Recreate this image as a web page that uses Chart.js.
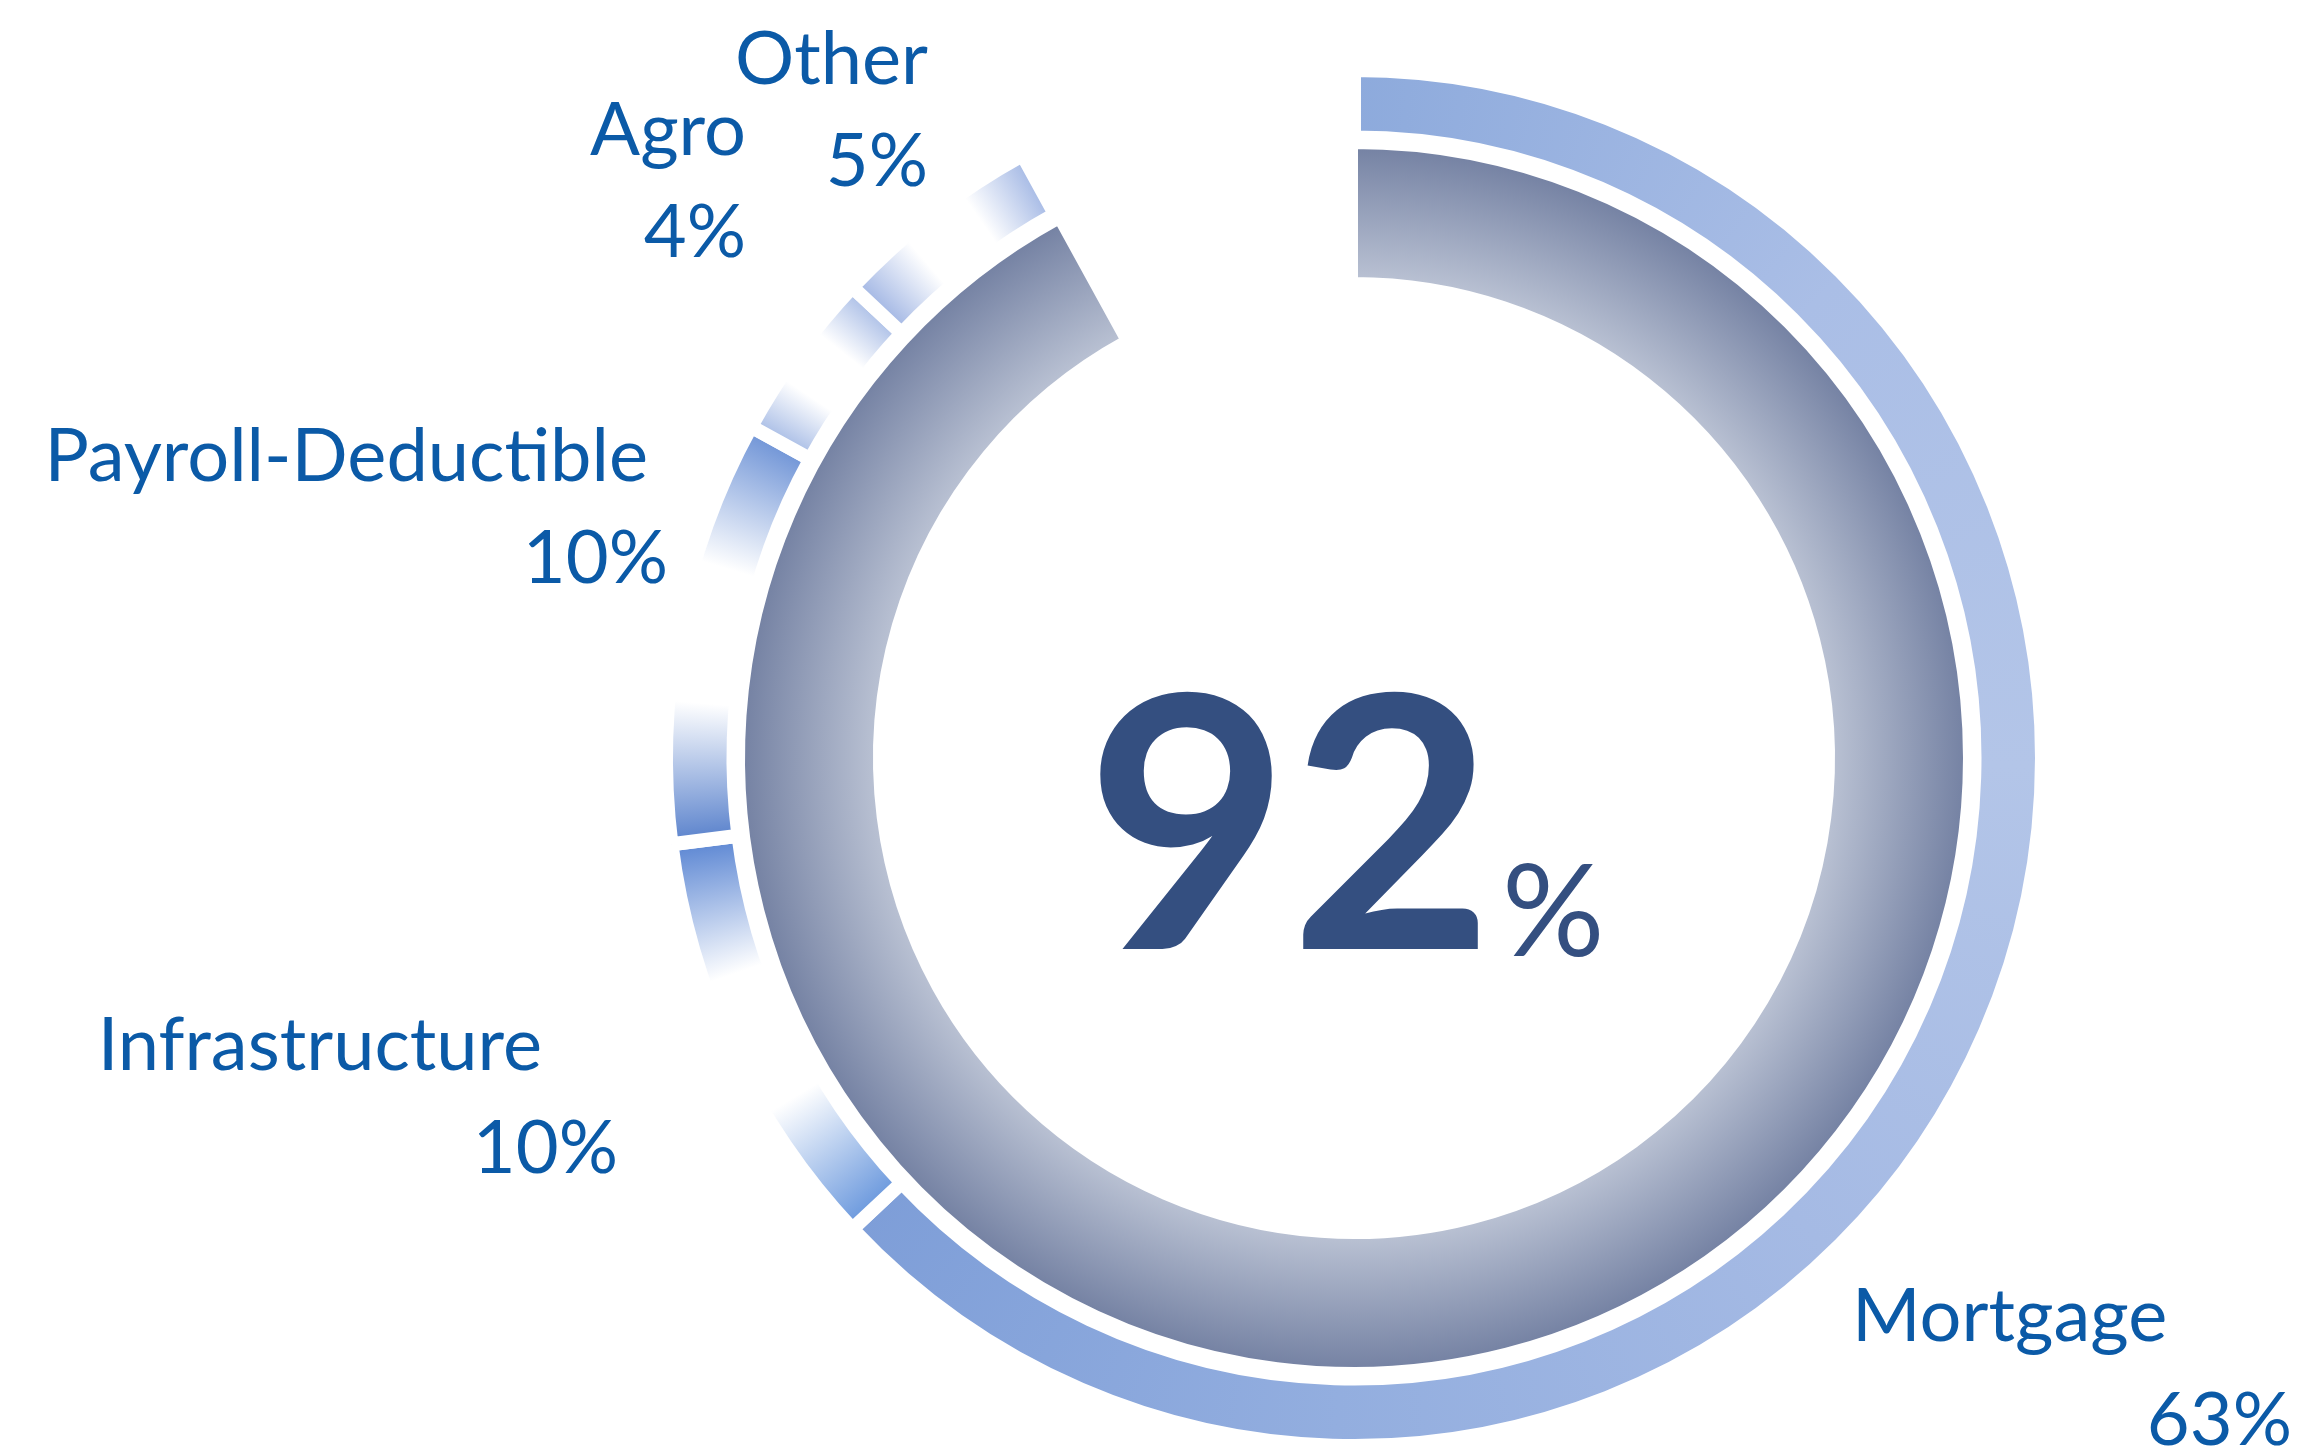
<!DOCTYPE html>
<html>
<head>
<meta charset="utf-8">
<script src="https://cdn.jsdelivr.net/npm/chart.js@4.4.1/dist/chart.umd.min.js"></script>
<style>
  html, body { margin: 0; padding: 0; background: #ffffff; }
  #wrap { position: relative; width: 2308px; height: 1447px; }
</style>
</head>
<body>
<div id="wrap"><canvas id="chart"></canvas></div>
<script>
const categories = ["Mortgage", "Infrastructure", "Payroll-Deductible", "Agro", "Other"];
const shares = [63, 10, 10, 4, 5];

const total = shares.reduce((acc, val) => acc + val, 0);
const remainder = 100 - total;

// colour stops laid evenly along each slice of the outer ring
const sliceFills = [
    ["#8daadc", "#aabee6", "#b3c5e8", "#a5bae4", "#93aedf", "#7e9ed8"],
    ["#6a98dd", "#ffffff", "#ffffff", "#5b86d3"],
    ["#5a82cc", "#ffffff", "#ffffff", "#6e93d6"],
    ["#a6bbe5", "#ffffff", "#ffffff", "#a9bde6"],
    ["#9fb4e3", "#ffffff", "#ffffff", "#a2b7e4"],
];

// caption anchors (canvas px): name line and value line
const captionPlaces = [
    { nx: 1852, ny: 1341, na: "left",  vx: 2292, vy: 1445, va: "right" },
    { nx: 542,  ny: 1070, na: "right", vx: 618,  vy: 1173, va: "right" },
    { nx: 648,  ny: 481,  na: "right", vx: 668,  vy: 583,  va: "right" },
    { nx: 746,  ny: 155,  na: "right", vx: 746,  vy: 257,  va: "right" },
    { nx: 928,  ny: 84,   na: "right", vx: 928,  vy: 186,  va: "right" },
];

const labelColor = "#0b5aa7";
const totalColor = "#344f80";

function ringCenter(chart) {
    const a = chart.chartArea;
    return { x: (a.left + a.right) / 2, y: (a.top + a.bottom) / 2 };
}

function outerFill(context) {
    const chart = context.chart;
    if (context.dataIndex >= shares.length) return "rgba(0,0,0,0)";
    if (!chart.chartArea) return sliceFills[context.dataIndex][0];
    const ctx = chart.ctx;
    const c = ringCenter(chart);
    if (!ctx.createConicGradient) return sliceFills[context.dataIndex][0];
    const g = ctx.createConicGradient(-Math.PI / 2, c.x, c.y);
    let start = 0;
    shares.forEach((v, i) => {
        const a = start / 100;
        const b = (start + v) / 100;
        const stops = sliceFills[i];
        stops.forEach((col, k) => {
            g.addColorStop(a + (b - a) * k / (stops.length - 1), col);
        });
        start += v;
    });
    g.addColorStop(1, "#ffffff");
    return g;
}

function innerFill(context) {
    const chart = context.chart;
    if (context.dataIndex > 0) return "rgba(0,0,0,0)";
    if (!chart.chartArea) return "#95a0bb";
    const c = ringCenter(chart);
    const g = chart.ctx.createRadialGradient(c.x, c.y, 481, c.x, c.y, 609);
    g.addColorStop(0, "#b8c0d2");
    g.addColorStop(1, "#7683a4");
    return g;
}

const captions = {
    id: "captions",
    afterDatasetsDraw(chart) {
        const ctx = chart.ctx;
        const c = ringCenter(chart);
        ctx.save();
        ctx.fillStyle = labelColor;
        ctx.font = "74px Lato";
        ctx.textBaseline = "alphabetic";
        categories.forEach((name, i) => {
            const p = captionPlaces[i];
            ctx.textAlign = p.na;
            ctx.fillText(name, p.nx, p.ny);
            ctx.textAlign = p.va;
            ctx.fillText(shares[i] + "%", p.vx, p.vy);
        });

        // total share in the middle
        ctx.fillStyle = totalColor;
        ctx.font = "bold 352px Lato";
        ctx.textAlign = "right";
        ctx.fillText(String(total), c.x + 140, c.y + 191);
        ctx.font = "128px Lato";
        ctx.textAlign = "left";
        ctx.fillText("%", c.x + 148, c.y + 198);
        ctx.restore();
    }
};

new Chart(document.getElementById("chart"), {
    type: "doughnut",
    data: {
        labels: [...categories, ""],
        datasets: [
            {
                data: [...shares, remainder],
                backgroundColor: outerFill,
                borderColor: "#ffffff",
                borderWidth: [...shares.map(() => 14), 0],
                weight: 67.5,
            },
            {
                // spacer between the two rings
                data: [100],
                backgroundColor: "rgba(0,0,0,0)",
                borderWidth: 0,
                weight: 7.5,
            },
            {
                data: [total, remainder],
                backgroundColor: innerFill,
                borderColor: "#ffffff",
                borderWidth: [8, 0],
                weight: 136,
            },
        ],
    },
    options: {
        responsive: true,
        maintainAspectRatio: false,
        animation: false,
        events: [],
        radius: 688,
        cutout: "69.33%",
        layout: { padding: { left: 400, right: 0, top: 69, bottom: 0 } },
        plugins: {
            legend: { display: false },
            tooltip: { enabled: false },
        },
    },
    plugins: [captions],
});
</script>
</body>
</html>
